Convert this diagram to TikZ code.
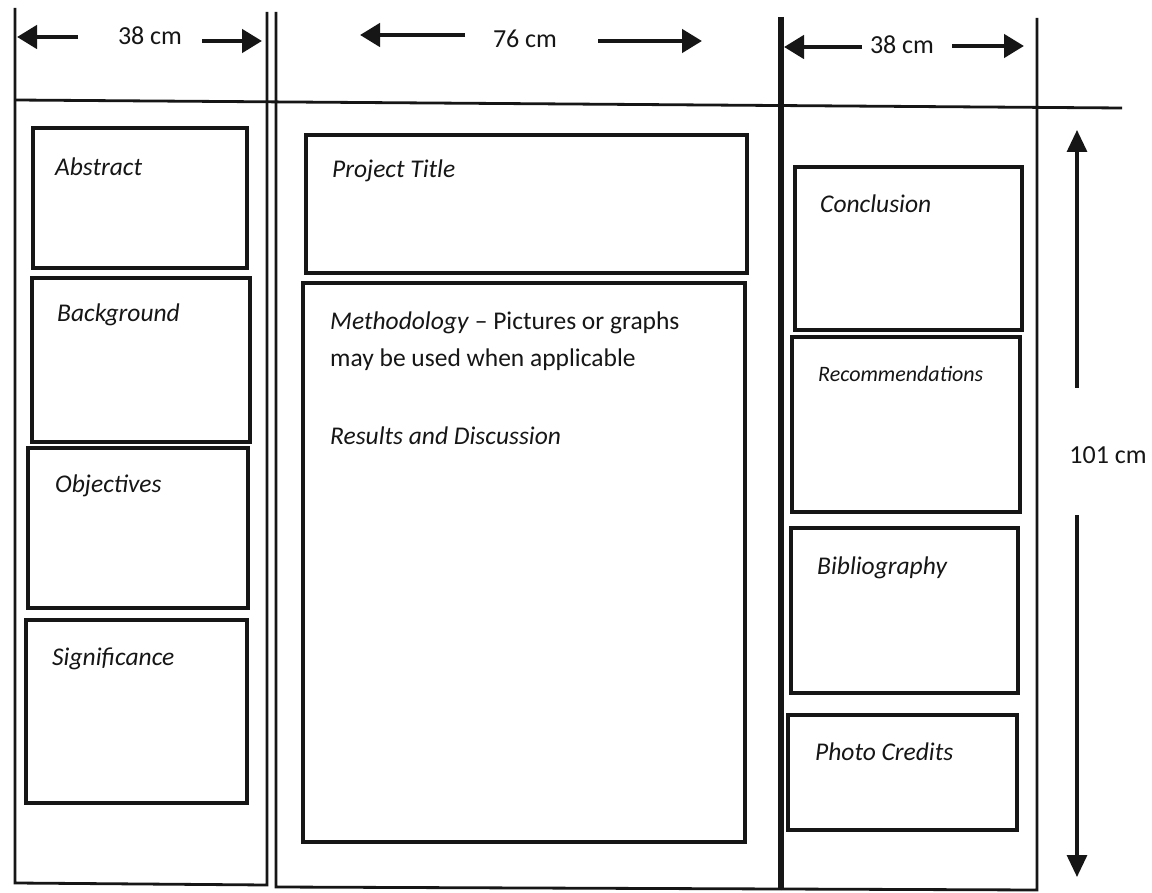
\documentclass[tikz,border=0pt]{standalone}
\usepackage{fontspec}
\setmainfont{Carlito}
\usetikzlibrary{arrows.meta}
\definecolor{ink}{HTML}{161616}
\begin{document}
\begin{tikzpicture}[x=1pt,y=-1pt,
  frame/.style={draw=ink, line width=2.8pt},
  thickframe/.style={draw=ink, line width=6.5pt},
  pbox/.style={draw=ink, line width=3.2pt, anchor=north west, inner sep=0pt, outer sep=0pt},
  lbl/.style={anchor=base west, inner sep=0pt, text=ink, font=\fontsize{25.5}{37}\selectfont\itshape},
  smalllbl/.style={lbl, font=\fontsize{22}{30}\selectfont\itshape},
  bodytxt/.style={anchor=base west, inner sep=0pt, text=ink, font=\fontsize{25.5}{37}\selectfont},
  dimtxt/.style={anchor=base, inner sep=0pt, text=ink, font=\fontsize{26}{30}\selectfont},
  dimarrow/.style={draw=ink, line width=4.5pt, -{Triangle[length=20pt,width=23pt]}},
  vdimarrow/.style={draw=ink, line width=3.2pt, -{Triangle[length=22pt,width=20pt]}}
]
\useasboundingbox (0,0) rectangle (1152,893);
\fill[white] (0,0) rectangle (1152,893);

% column frame
\draw[frame] (15,8) -- (15,883) -- (267,885) -- (267,12);
\draw[frame] (276,12) -- (276,887) -- (781,889);
\draw[thickframe] (781,17) -- (781,890);
\draw[frame] (781,889) -- (1037,890) -- (1037,18);
\draw[frame] (15,100) -- (1122,108);

% left column boxes
\node[pbox, minimum width=214pt, minimum height=140pt] (abstract) at (33,128) {};
\node[pbox, minimum width=218pt, minimum height=164pt] (background) at (32,278) {};
\node[pbox, minimum width=220pt, minimum height=160pt] (objectives) at (28,448) {};
\node[pbox, minimum width=221pt, minimum height=183pt] (significance) at (26,620) {};
% middle column boxes
\node[pbox, minimum width=441pt, minimum height=138pt] (title) at (306,135) {};
\node[pbox, minimum width=442pt, minimum height=559pt] (method) at (303,283) {};
% right column boxes
\node[pbox, minimum width=227pt, minimum height=163pt] (conclusion) at (795,167) {};
\node[pbox, minimum width=228pt, minimum height=175pt] (recomm) at (792,337) {};
\node[pbox, minimum width=227pt, minimum height=165pt] (biblio) at (791,528) {};
\node[pbox, minimum width=229pt, minimum height=115pt] (photo) at (788,715) {};

% labels
\node[lbl] (tabstract) at (55,176) {Abstract};
\node[lbl] (tbackground) at (57,322) {Background};
\node[lbl] (tobjectives) at (55,492) {Objectives};
\node[lbl] (tsignificance) at (52,665) {Significance};
\node[lbl] (ttitle) at (332,178) {Project Title};
\node[bodytxt] (tmethod1) at (330,330) {\textit{Methodology} -- Pictures or graphs};
\node[bodytxt] (tmethod2) at (330,367) {may be used when applicable};
\node[lbl] (tresults) at (330,444) {Results and Discussion};
\node[lbl] (tconclusion) at (820,213) {Conclusion};
\node[smalllbl] (trecomm) at (818,382) {Recommendations};
\node[lbl] (tbiblio) at (817,574) {Bibliography};
\node[lbl] (tphoto) at (815,760) {Photo Credits};

% dimension labels
\node[dimtxt] (d38a) at (150,45) {38 cm};
\node[dimtxt] (d76) at (525,48) {76 cm};
\node[dimtxt] (d38b) at (902,54) {38 cm};
\node[dimtxt] (d101) at (1108,463) {101 cm};

% dimension arrows
\coordinate (a1s) at (78,37);   \coordinate (a1e) at (17,37);
\coordinate (a2s) at (202,41);  \coordinate (a2e) at (262,41);
\coordinate (b1s) at (465,35);  \coordinate (b1e) at (360,35);
\coordinate (b2s) at (598,41);  \coordinate (b2e) at (702,41);
\coordinate (c1s) at (862,47);  \coordinate (c1e) at (784,47);
\coordinate (c2s) at (952,46);  \coordinate (c2e) at (1024,46);
\coordinate (v1s) at (1077,388); \coordinate (v1e) at (1077,130);
\coordinate (v2s) at (1077,515); \coordinate (v2e) at (1077,877);
\draw[dimarrow] (a1s) -- (a1e);
\draw[dimarrow] (a2s) -- (a2e);
\draw[dimarrow] (b1s) -- (b1e);
\draw[dimarrow] (b2s) -- (b2e);
\draw[dimarrow] (c1s) -- (c1e);
\draw[dimarrow] (c2s) -- (c2e);
\draw[vdimarrow] (v1s) -- (v1e);
\draw[vdimarrow] (v2s) -- (v2e);
\end{tikzpicture}
\end{document}
